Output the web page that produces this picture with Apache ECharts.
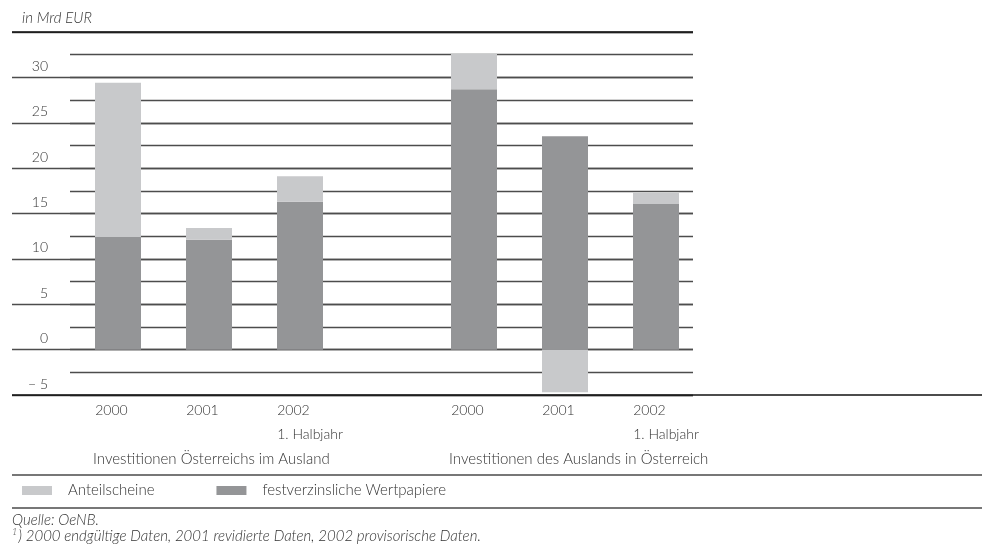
<!DOCTYPE html>
<html>
<head>
<meta charset="utf-8">
<script src="https://cdn.jsdelivr.net/npm/echarts@6/dist/echarts.min.js"></script>
<style>
  html, body { margin: 0; padding: 0; background: #fff; }
  #chart { width: 982px; height: 557px; }
</style>
</head>
<body>
<div id="chart"></div>
<script>
// values in Mrd EUR
const years = ['2000', '2001', '2002']
const yearLabels = ['2000', '', '2001', '', '2002\n1. Halbjahr', '']
const festOut = [12.4, 12.1, 16.3]      // Österreich im Ausland
const anteilOut = [17.0, 1.3, 2.8]
const festIn = [28.7, 23.5, 16.1]       // Ausland in Österreich
const anteilIn = [3.9, -4.7, 1.2]
const groupTitles = ['Investitionen Österreichs im Ausland', 'Investitionen des Auslands in Österreich']

const FONT = 'Lato, "Open Sans", sans-serif'
const W = 300
const TXT = '#333'
const LIGHT = '#c8c9cb'
const DARK = '#949597'
const LINE = '#4d4d4d'

const chart = echarts.init(document.getElementById('chart'))

const yBase = { type: 'value', min: -5, max: 35 }
const hiddenY = { ...yBase, show: false, splitLine: { show: false } }

function barSeries(name, data, axis, stack, color) {
  return {
    name, type: 'bar', stack, stackStrategy: 'samesign', data, barWidth: 46,
    xAxisIndex: axis, yAxisIndex: axis,
    itemStyle: { color, borderWidth: 0 }, emphasis: { disabled: true }
  }
}

function labelAxis(grid) {
  return {
    type: 'category', gridIndex: grid, data: yearLabels, position: 'bottom',
    axisLine: { show: false }, axisTick: { show: false },
    axisLabel: {
      interval: 0, align: 'left', verticalAlign: 'top', margin: 3,
      lineHeight: 24, color: TXT, fontFamily: FONT, fontWeight: W, fontSize: 14
    }
  }
}

chart.setOption({
  animation: false,
  textStyle: { fontFamily: FONT },
  grid: [
    { left: 12, right: 289, top: 32, height: 363 },
    { left: 70, right: 289, top: 32, height: 363 },
    { left: 72.5, width: 273, top: 32, height: 363 },
    { left: 428.5, width: 273, top: 32, height: 363 }
  ],
  xAxis: [
    { type: 'category', gridIndex: 0, data: [''], show: false },
    { type: 'category', gridIndex: 1, data: [''], show: false },
    { type: 'category', gridIndex: 2, data: years, show: false },
    { type: 'category', gridIndex: 3, data: years, show: false },
    labelAxis(2),
    labelAxis(3)
  ],
  yAxis: [
    {
      ...yBase, gridIndex: 0, interval: 5,
      axisLine: { show: false }, axisTick: { show: false },
      splitLine: { lineStyle: { color: LINE, width: 1.3 } },
      axisLabel: {
        inside: true, align: 'right', margin: 36, verticalAlign: 'bottom',
        padding: [0, 0, 4, 0], color: TXT, fontFamily: FONT, fontWeight: W, fontSize: 14,
        formatter: v => v === 35 ? '' : (v < 0 ? '\u2212 ' + (-v) : String(v))
      }
    },
    {
      ...yBase, gridIndex: 1, interval: 2.5,
      axisLine: { show: false }, axisTick: { show: false }, axisLabel: { show: false },
      splitLine: { lineStyle: { color: LINE, width: 1.3 } }
    },
    { ...hiddenY, gridIndex: 2 },
    { ...hiddenY, gridIndex: 3 }
  ],
  legend: {
    left: 22, top: 483, padding: 0, icon: 'rect', itemWidth: 30, itemHeight: 9, itemGap: 62,
    selectedMode: false,
    data: ['Anteilscheine', 'festverzinsliche Wertpapiere'],
    textStyle: { color: TXT, fontFamily: FONT, fontWeight: W, fontSize: 15, padding: [0, 0, 0, 11] }
  },
  series: [
    barSeries('festverzinsliche Wertpapiere', festOut, 2, 'out', DARK),
    barSeries('Anteilscheine', anteilOut, 2, 'out', LIGHT),
    barSeries('festverzinsliche Wertpapiere', festIn, 3, 'in', DARK),
    barSeries('Anteilscheine', anteilIn, 3, 'in', LIGHT)
  ],
  graphic: [
    { type: 'line', z: 10, shape: { x1: 12, y1: 32, x2: 693, y2: 32 }, style: { stroke: '#111', lineWidth: 1.5 } },
    { type: 'line', z: 10, shape: { x1: 12, y1: 395, x2: 982, y2: 395 }, style: { stroke: '#111', lineWidth: 1.5 } },
    { type: 'line', z: 10, shape: { x1: 12, y1: 475, x2: 982, y2: 475 }, style: { stroke: '#777', lineWidth: 2 } },
    { type: 'line', z: 10, shape: { x1: 12, y1: 508, x2: 982, y2: 508 }, style: { stroke: '#777', lineWidth: 2 } },
    { type: 'text', left: 22, top: 11, style: { text: 'in Mrd EUR', fill: TXT, font: 'italic 300 15px ' + FONT } },
    { type: 'text', left: 93, top: 452, style: { text: groupTitles[0], fill: TXT, font: '300 15px ' + FONT } },
    { type: 'text', left: 449, top: 452, style: { text: groupTitles[1], fill: TXT, font: '300 15px ' + FONT } },
    { type: 'text', left: 12, top: 513, style: { text: 'Quelle: OeNB.', fill: TXT, font: 'italic 300 15px ' + FONT } },
    {
      type: 'text', left: 12, top: 528,
      style: {
        text: '{s|1}{t|) 2000 endgültige Daten, 2001 revidierte Daten, 2002 provisorische Daten.}',
        fill: TXT,
        rich: {
          s: { fontSize: 9, fontStyle: 'italic', fontWeight: W, fontFamily: FONT, verticalAlign: 'top', padding: [0, 1, 7, 0] },
          t: { fontSize: 15, fontStyle: 'italic', fontWeight: W, fontFamily: FONT }
        }
      }
    }
  ]
})
</script>
</body>
</html>
